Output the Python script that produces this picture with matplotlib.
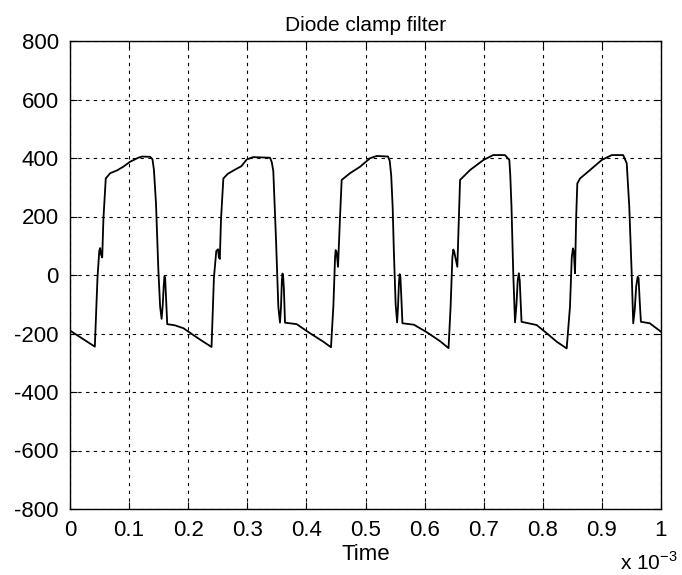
import numpy as np
import matplotlib
matplotlib.use("Agg")
import matplotlib.pyplot as plt
from matplotlib.ticker import FuncFormatter

plt.rcParams['font.family'] = ['Liberation Sans', 'DejaVu Sans']
plt.rcParams['axes.unicode_minus'] = False
plt.rcParams['mathtext.fontset'] = 'custom'
plt.rcParams['mathtext.rm'] = 'Liberation Sans'

# Time in ms (axis shows x 10^-3 s), voltage
time_ms = [
    0.000, 0.042,
    # cycle 1
    0.0465, 0.0495, 0.051, 0.0525, 0.0545, 0.0565, 0.0605, 0.068, 0.080, 0.090,
    0.1015, 0.1155, 0.122, 0.1355, 0.1395, 0.142, 0.1455, 0.1495, 0.1525, 0.155,
    0.157, 0.1585, 0.1598, 0.161, 0.1625, 0.1645, 0.1775, 0.192, 0.2085, 0.224, 0.2395,
    # cycle 2
    0.2435, 0.2475, 0.2505, 0.252, 0.2535, 0.2555, 0.2595, 0.267, 0.279, 0.290,
    0.299, 0.310, 0.3385, 0.3415, 0.344, 0.3465, 0.3486, 0.3525, 0.3553, 0.357,
    0.3585, 0.3595, 0.3605, 0.362, 0.3638, 0.3835, 0.406, 0.4286, 0.4416,
    # cycle 3
    0.4456, 0.4485, 0.4495, 0.451, 0.4535, 0.4569, 0.4597, 0.4738, 0.4907, 0.5076,
    0.519, 0.538, 0.541, 0.5435, 0.546, 0.548, 0.551, 0.5535, 0.555, 0.5565,
    0.5578, 0.559, 0.5605, 0.5625, 0.582, 0.604, 0.626, 0.6405,
    # cycle 4
    0.644, 0.647, 0.6486, 0.650, 0.6554, 0.658, 0.660, 0.677, 0.6994, 0.716,
    0.736, 0.7434, 0.745, 0.747, 0.750, 0.753, 0.7555, 0.7575, 0.7595, 0.761,
    0.7625, 0.764, 0.7896, 0.8066, 0.8235, 0.8404,
    # cycle 5
    0.846, 0.849, 0.851, 0.8525, 0.8545, 0.8565, 0.8584, 0.863, 0.880, 0.8996,
    0.9166, 0.936, 0.942, 0.9463, 0.9504, 0.953, 0.9555, 0.958, 0.9605, 0.962,
    0.964, 0.966, 0.981, 1.000,
]
voltage = [
    -190, -245,
    # cycle 1
    -10, 82, 92, 70, 60, 190, 330, 348, 358, 370,
    387, 401, 405, 404, 396, 360, 245, 17, -108, -150,
    -100, -40, -5, -10, -80, -168, -172, -182, -205, -226, -246,
    # cycle 2
    -10, 82, 88, 60, 55, 190, 330, 346, 360, 372,
    395, 403, 401, 385, 355, 230, 120, -108, -163, -110,
    -20, 5, 0, -51, -163, -168, -199, -228, -247,
    # cycle 3
    -108, 60, 85, 80, 28, 199, 325, 348, 370, 399,
    407, 405, 390, 340, 230, 80, -100, -162, -110, -30,
    3, -5, -70, -165, -170, -196, -226, -250,
    # cycle 4
    -108, 60, 87, 80, 28, 200, 325, 359, 393, 410,
    410, 393, 340, 234, 6, -162, -100, -20, 6, -20,
    -90, -160, -171, -199, -228, -251,
    # cycle 5
    -108, 60, 91, 80, 6, 200, 313, 330, 359, 393,
    410, 410, 382, 234, 6, -165, -120, -40, -6, -10,
    -90, -160, -165, -194,
]

x_ticks = [0, 0.1, 0.2, 0.3, 0.4, 0.5, 0.6, 0.7, 0.8, 0.9, 1.0]
y_ticks = [-800, -600, -400, -200, 0, 200, 400, 600, 800]

fig = plt.figure(figsize=(6.82, 5.75), dpi=100)
ax = fig.add_axes([70 / 682, 1 - 509 / 575, 591 / 682, 468 / 575])

ax.plot(time_ms, voltage, color='black', linewidth=1.3)

ax.set_xlim(0, 1)
ax.set_ylim(-800, 800)
ax.set_xticks(x_ticks)
ax.set_yticks(y_ticks)
ax.xaxis.set_major_formatter(FuncFormatter(lambda v, p: f"{v:g}"))
ax.yaxis.set_major_formatter(FuncFormatter(lambda v, p: f"{v:g}"))

ax.tick_params(direction='in', top=True, right=True, length=5, width=0.8,
               labelsize=16, colors='black')
ax.tick_params(axis='x', pad=8)
ax.tick_params(axis='y', pad=8)

ax.grid(True, color='black', linestyle=(0, (3, 4)), linewidth=0.8)

for spine in ax.spines.values():
    spine.set_color('black')
    spine.set_linewidth(1.0)

ax.set_title("Diode clamp filter", fontsize=15, pad=7)
ax.set_xlabel("Time", fontsize=16, labelpad=2)

# MATLAB-style exponent note under the right end of the x axis
fig.text(678 / 682, 1 / 575, r"x 10$^{-3}$", fontsize=15, ha='right', va='bottom')

fig.savefig("out.png", dpi=100)
